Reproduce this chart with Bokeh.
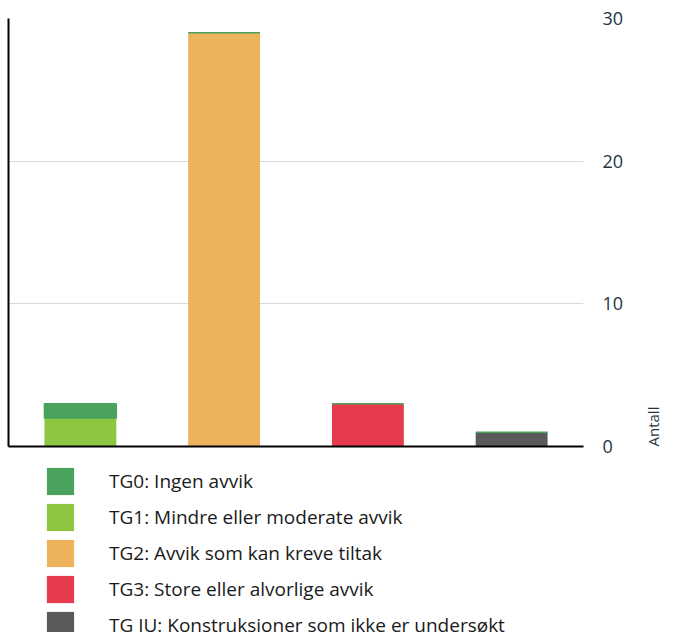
from bokeh.plotting import figure
from bokeh.models import (ColumnDataSource, FactorRange, Range1d, Legend,
                          LegendItem, FixedTicker, LinearAxis)
from bokeh.layouts import column
from bokeh.transform import stack
from bokeh.embed import file_html
from bokeh.resources import INLINE
import math

# ---- data ----
categories = ["1", "2", "3", "4"]
tg_iu = [0, 0, 0, 1]
tg3 = [0, 0, 3, 0]
tg2 = [0, 29, 0, 0]
tg1 = [2, 0, 0, 0]
tg0 = [1, 0, 0, 0]

series = ["TG IU", "TG3", "TG2", "TG1", "TG0"]  # stacked bottom -> top
legend_order = ["TG0", "TG1", "TG2", "TG3", "TG IU"]
labels = {
    "TG0": "TG0: Ingen avvik",
    "TG1": "TG1: Mindre eller moderate avvik",
    "TG2": "TG2: Avvik som kan kreve tiltak",
    "TG3": "TG3: Store eller alvorlige avvik",
    "TG IU": "TG IU: Konstruksjoner som ikke er undersøkt",
}
colors = {
    "TG0": "#4aa35d",
    "TG1": "#8dc641",
    "TG2": "#edb25c",
    "TG3": "#e63b4c",
    "TG IU": "#5a5a5a",
}
y_ticks = [0, 10, 20, 30]
axis_title = "Antall"

source = ColumnDataSource(dict(cat=categories, **{"TG IU": tg_iu, "TG3": tg3,
                                                   "TG2": tg2, "TG1": tg1, "TG0": tg0}))

TXT = "#26343f"
W = 685  # the blank strip right of "Antall" is clipped by the 676px column

p = figure(width=W, height=460, x_range=FactorRange(*categories, range_padding=0),
           y_range=Range1d(0, 30), output_backend="svg", toolbar_location=None,
           y_axis_location="right", x_axis_location=None,
           min_border_left=8, min_border_right=0, min_border_top=18,
           min_border_bottom=14)
p.outline_line_color = None
p.xgrid.visible = False
p.ygrid.grid_line_color = "#d9d9d9"
p.ygrid.grid_line_width = 1

# right value axis
ya = p.yaxis[0]
ya.ticker = FixedTicker(ticks=y_ticks)
ya.axis_line_color = None
ya.major_tick_line_color = None
ya.minor_tick_line_color = None
ya.major_tick_out = 0
ya.major_tick_in = 0
ya.minor_tick_out = 0
ya.minor_tick_in = 0
ya.major_label_standoff = 19
ya.major_label_text_font = "Open Sans"
ya.major_label_text_font_size = "18px"
ya.major_label_text_color = TXT
ya.axis_label = axis_title
ya.axis_label_text_font = "Open Sans"
ya.axis_label_text_font_size = "15px"
ya.axis_label_text_font_style = "normal"
ya.axis_label_text_color = TXT
ya.axis_label_orientation = math.pi / 2
ya.axis_label_align = "start"
ya.axis_label_standoff = 27

# bottom and left: black lines only
for side in ("below", "left"):
    ax = LinearAxis(ticker=FixedTicker(ticks=[]), axis_line_color="black",
                    axis_line_width=2, major_tick_line_color=None,
                    minor_tick_line_color=None, major_tick_out=0, major_tick_in=0,
                    minor_tick_out=0, minor_tick_in=0, major_label_standoff=0)
    p.add_layout(ax, side)

for i, s in enumerate(series):
    below = series[:i]
    top = series[:i + 1]
    lc = colors[s] if s == "TG0" else None
    p.vbar(x="cat", width=0.5, bottom=stack(*below) if below else 0,
           top=stack(*top), source=source, fill_color=colors[s],
           line_color=lc, line_width=1.5)

# legend panel (its bars lie outside the visible range; only the legend shows)
lg = figure(width=W, height=172, x_range=FactorRange(*categories, range_padding=0),
            y_range=Range1d(-1, -2), output_backend="svg", toolbar_location=None,
            x_axis_location=None, y_axis_location=None,
            min_border_left=0, min_border_right=0, min_border_top=0,
            min_border_bottom=0)
lg.grid.visible = False
lg.outline_line_color = None
items = []
for s in legend_order:
    r = lg.vbar(x="cat", top=s, width=0.5, source=source, fill_color=colors[s],
                line_color=None)
    items.append(LegendItem(label=labels[s], renderers=[r]))
legend = Legend(items=items, location=(35, -10), orientation="vertical",
                glyph_width=34, glyph_height=34, label_standoff=32, spacing=2,
                padding=0, margin=0, border_line_color=None,
                background_fill_alpha=0, label_text_font="Open Sans",
                label_text_font_size="19px", label_text_color="#1a1a1a")
lg.add_layout(legend)

layout = column(p, lg, spacing=0, width=676, height=632,
                styles={"overflow": "hidden"})
open("out.html", "w").write(file_html(layout, INLINE))
